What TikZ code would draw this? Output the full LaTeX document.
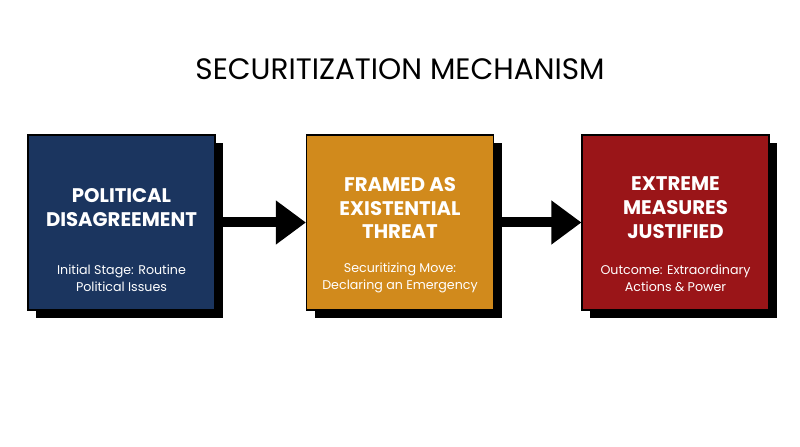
\documentclass[tikz,border=0pt]{standalone}
\usepackage{fontspec}
\setmainfont{Poppins}
\usetikzlibrary{positioning, arrows.meta}
\definecolor{polblue}{HTML}{1B355F}
\definecolor{threatorange}{HTML}{D18A1C}
\definecolor{measurered}{HTML}{9A1518}
\tikzstyle{stage} = [draw=black, line width=0.8pt, minimum width=4.675cm, minimum height=4.375cm, inner sep=0pt]
\tikzstyle{head} = [text=white, font=\fontsize{14}{17}\selectfont\bfseries, align=center]
\tikzstyle{sub} = [text=white, font=\fontsize{9}{12}\selectfont, align=center]
\tikzstyle{arrow} = [line width=0.25cm, -{Triangle[length=0.75cm,width=1.05cm]}]

\begin{document}
\begin{tikzpicture}
\useasboundingbox (0,0) rectangle (20,11.175);

% --- Title ---
\node (title) at (10,9.45) {\fontsize{21}{25}\selectfont SECURITIZATION MECHANISM};

% --- Stages ---
\foreach \x/\c/\n in {3.0375/polblue/s1, 10/threatorange/s2, 16.8875/measurered/s3} {
  \fill[black] (\x-2.3375+0.2,5.6125-2.1875-0.2) rectangle ++(4.675,4.375);
  \node[stage, fill=\c] (\n) at (\x,5.6125) {};
}

% --- Texts ---
\node[head] (h1) at (3.0375,5.975) {POLITICAL\\DISAGREEMENT};
\node[sub] (t1) at (3.0375,4.225) {Initial Stage: Routine\\Political Issues};
\node[head] (h2) at (10,5.975) {FRAMED AS\\EXISTENTIAL\\THREAT};
\node[sub] (t2) at (10,4.225) {Securitizing Move:\\Declaring an Emergency};
\node[head] (h3) at (16.8875,5.975) {EXTREME\\MEASURES\\JUSTIFIED};
\node[sub] (t3) at (16.8875,4.225) {Outcome: Extraordinary\\Actions \& Power};

% connections
\draw[arrow] (s1.east) -- (s2.west);
\draw[arrow] (s2.east) -- (s3.west);

\end{tikzpicture}
\end{document}
